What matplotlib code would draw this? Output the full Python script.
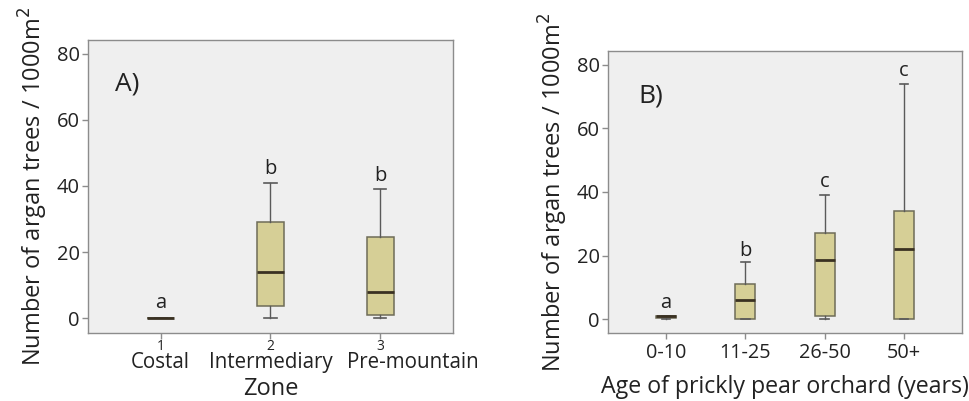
import matplotlib.pyplot as plt

plt.rcParams['font.family'] = ['Open Sans', 'DejaVu Sans']

# panel A: zones
zone_ticks = ['1', '2', '3']
zone_names = ['Costal', 'Intermediary', 'Pre-mountain']
zone_low = [0, 0, 0]
zone_q1 = [0, 3.6, 1]
zone_med = [0, 14, 8]
zone_q3 = [0, 29, 24.5]
zone_high = [0, 41, 39]
zone_letters = ['a', 'b', 'b']
zone_letter_y = [4.5, 45, 43]

# panel B: orchard age
age_names = ['0-10', '11-25', '26-50', '50+']
age_low = [0, 0, 0, 0]
age_q1 = [0.4, 0, 1, 0]
age_med = [1, 6, 18.5, 22]
age_q3 = [1, 11, 27, 34]
age_high = [1, 18, 39, 74]
age_letters = ['a', 'b', 'c', 'c']
age_letter_y = [5, 21.5, 43, 78]

box_fill = '#d6cf96'
box_edge = '#6e6c58'
median_col = '#3a3122'
whisk_col = '#5a5a5a'
txt = '#222222'


def make_stats(low, q1, med, q3, high):
    stats = []
    for i in range(len(med)):
        stats.append({'whislo': low[i], 'q1': q1[i], 'med': med[i],
                      'q3': q3[i], 'whishi': high[i], 'fliers': []})
    return stats


def draw_boxes(ax, stats):
    ax.bxp(stats, positions=range(1, len(stats) + 1), widths=0.25,
           patch_artist=True, showfliers=False,
           boxprops=dict(facecolor=box_fill, edgecolor=box_edge, linewidth=1.1),
           medianprops=dict(color=median_col, linewidth=2),
           whiskerprops=dict(color=whisk_col, linewidth=1),
           capprops=dict(color=whisk_col, linewidth=1.2),
           capwidths=0.11)


def style_axes(ax):
    ax.set_facecolor('#efefef')
    for s in ax.spines.values():
        s.set_color('#8c8c8c')
        s.set_linewidth(1)
    ax.tick_params(axis='both', colors='#8c8c8c', labelcolor=txt,
                   length=4, width=1)
    ax.set_yticks([0, 20, 40, 60, 80])
    ax.tick_params(axis='y', labelsize=14.5, pad=2)


fig = plt.figure(figsize=(9.69, 4.01), dpi=100)

# ---- A ----
ax1 = fig.add_axes([0.0908, 0.1696, 0.3767, 0.7307])
draw_boxes(ax1, make_stats(zone_low, zone_q1, zone_med, zone_q3, zone_high))
style_axes(ax1)
ax1.set_xlim(0.34, 3.66)
ax1.set_ylim(-4.5, 84.2)
ax1.set_xticks([1, 2, 3])
ax1.set_xticklabels(zone_ticks, fontsize=10)
ax1.tick_params(axis='x', pad=0)
name_x = [1, 2, 3.29]
for i, name in enumerate(zone_names):
    ax1.text(name_x[i], -0.10, name, transform=ax1.get_xaxis_transform(),
             ha='center', va='center', fontsize=14.8, color=txt)
ax1.text(2, -0.19, 'Zone', transform=ax1.get_xaxis_transform(),
         ha='center', va='center', fontsize=17, color=txt)
ax1.set_ylabel('Number of argan trees / 1000m$^2$', fontsize=17, labelpad=5,
               color=txt)
for i, t in enumerate(zone_letters):
    ax1.text(i + 1, zone_letter_y[i], t, ha='center', va='center',
             fontsize=14.5, color=txt)
ax1.text(0.075, 0.85, 'A)', transform=ax1.transAxes, ha='left', va='center',
         fontsize=19, color=txt)

# ---- B ----
ax2 = fig.add_axes([0.6275, 0.1696, 0.3653, 0.7032])
draw_boxes(ax2, make_stats(age_low, age_q1, age_med, age_q3, age_high))
style_axes(ax2)
ax2.set_xlim(0.27, 4.73)
ax2.set_ylim(-4.4, 84.4)
ax2.set_xticks([1, 2, 3, 4])
ax2.set_xticklabels(age_names, fontsize=14.3)
ax2.set_xlabel('Age of prickly pear orchard (years)', fontsize=16.7,
               labelpad=8, color=txt)
ax2.set_ylabel('Number of argan trees / 1000m$^2$', fontsize=17, labelpad=5,
               color=txt)
for i, t in enumerate(age_letters):
    ax2.text(i + 1, age_letter_y[i], t, ha='center', va='center',
             fontsize=14.5, color=txt)
ax2.text(0.085, 0.84, 'B)', transform=ax2.transAxes, ha='left', va='center',
         fontsize=19, color=txt)

fig.savefig('out.png', dpi=100, facecolor='white')
